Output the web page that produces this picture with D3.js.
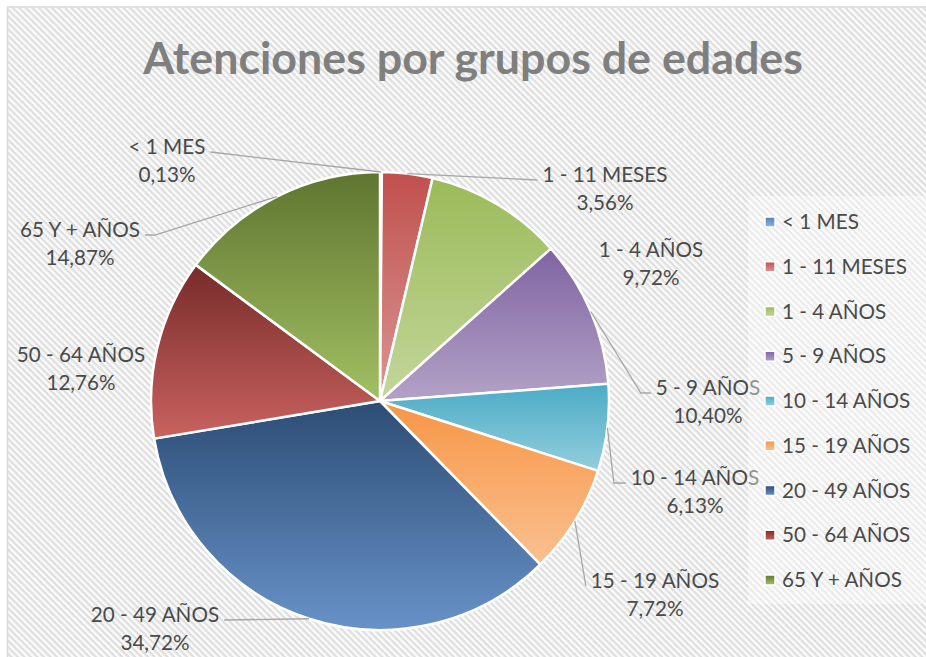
<!DOCTYPE html>
<html>
<head>
<meta charset="utf-8">
<script src="https://cdn.jsdelivr.net/npm/d3@7"></script>
<style>
  body { margin: 0; background: #fff; }
  text { font-family: Lato, "Open Sans", sans-serif; }
</style>
</head>
<body>
<div id="chart"></div>
<script>
// DATA
const categories = ["< 1 MES", "1 - 11 MESES", "1 - 4 AÑOS", "5 - 9 AÑOS", "10 - 14 AÑOS",
                    "15 - 19 AÑOS", "20 - 49 AÑOS", "50 - 64 AÑOS", "65 Y + AÑOS"];
const values = [0.13, 3.56, 9.72, 10.40, 6.13, 7.72, 34.72, 12.76, 14.87];
const titleText = "Atenciones por grupos de edades";

// gradient colours (top -> bottom of each slice)
const colorTop    = ["#4f81bd", "#c0504d", "#9bbb59", "#8064a2", "#4bacc6", "#f79646", "#2c4d75", "#772c2a", "#5f7530"];
const colorBottom = ["#95b3d7", "#da9694", "#c3d69b", "#b3a2c7", "#93cddd", "#fac090", "#6892c8", "#c9625f", "#a2c063"];

// label placement (centre x, first-line baseline) and leader elbow length
const labelLayout = [
  {x: 167, y: 154, elbow: 0},
  {x: 605, y: 182, elbow: 0},
  {x: 651, y: 257, elbow: null},
  {x: 708, y: 395, elbow: 10},
  {x: 695, y: 485, elbow: 12},
  {x: 655, y: 588, elbow: 0},
  {x: 155, y: 622, elbow: 0},
  {x: 81,  y: 362, elbow: null},
  {x: 80,  y: 237, elbow: 10}
];

const width = 926, height = 657;
const cx = 380, cy = 401, radius = 229;
const fmt = d3.formatLocale({decimal: ",", thousands: ".", grouping: [3], currency: ["", ""]}).format(".2f");
const textColor = "#4a4a4a";

const svg = d3.select("#chart").append("svg")
  .attr("width", width)
  .attr("height", height);

const defs = svg.append("defs");

// striped background
const pat = defs.append("pattern")
  .attr("id", "stripes")
  .attr("patternUnits", "userSpaceOnUse")
  .attr("width", 4.6).attr("height", 4.6)
  .attr("patternTransform", "rotate(45)");
pat.append("rect").attr("width", 4.6).attr("height", 4.6).attr("fill", "#fbfbfb");
pat.append("rect").attr("width", 4.6).attr("height", 2.2).attr("fill", "#dedede");

svg.append("rect").attr("width", width).attr("height", height).attr("fill", "#fff");
svg.append("rect")
  .attr("x", 7.5).attr("y", 7).attr("width", width + 10).attr("height", height + 10)
  .attr("fill", "url(#stripes)")
  .attr("stroke", "#d9d9d9").attr("stroke-width", 1.5);

// gradients
categories.forEach((c, i) => {
  const g = defs.append("linearGradient")
    .attr("id", "grad" + i)
    .attr("x1", 0).attr("y1", 0).attr("x2", 0).attr("y2", 1);
  g.append("stop").attr("offset", "0%").attr("stop-color", colorTop[i]);
  g.append("stop").attr("offset", "100%").attr("stop-color", colorBottom[i]);
});

// title, sized to the reference width
const title = svg.append("text")
  .attr("x", 473).attr("y", 74)
  .attr("text-anchor", "middle")
  .attr("font-weight", "bold")
  .attr("fill", "#7f7f7f")
  .attr("font-size", 44)
  .text(titleText);
const tw = title.node().getComputedTextLength();
title.attr("font-size", 44 * 660 / tw);

// label font size fitted so "1 - 11 MESES" is ~125px wide
const probe = svg.append("text").attr("font-size", 20).text(categories[1]);
const fontSize = 20 * 125 / probe.node().getComputedTextLength();
probe.remove();

const gPie = svg.append("g").attr("transform", `translate(${cx},${cy})`);
const gLabels = svg.append("g");
const gLegend = svg.append("g");

// PIE
const pie = d3.pie().sort(null).value(d => d)(values);
const arc = d3.arc().innerRadius(0).outerRadius(radius);

gPie.selectAll("path")
  .data(pie)
  .enter()
  .append("path")
  .attr("d", arc)
  .attr("fill", (d, i) => `url(#grad${i})`)
  .attr("stroke", "#fff")
  .attr("stroke-width", 2.5)
  .attr("stroke-linejoin", "round");

// LABELS + LEADERS
pie.forEach((d, i) => {
  const L = labelLayout[i];
  const t = gLabels.append("text")
    .attr("text-anchor", "middle")
    .attr("fill", textColor)
    .attr("font-size", fontSize);
  t.append("tspan").attr("x", L.x).attr("y", L.y).text(categories[i]);
  t.append("tspan").attr("x", L.x).attr("y", L.y + 28).text(fmt(values[i]) + "%");

  if (L.elbow === null) return;
  const first = t.select("tspan").node().getComputedTextLength();
  const mid = (d.startAngle + d.endAngle) / 2;
  const p0 = [cx + radius * Math.sin(mid), cy - radius * Math.cos(mid)];
  const right = L.x > cx;
  const ex = right ? L.x - first / 2 - 5 : L.x + first / 2 + 5;
  const ey = L.y - 2;
  const pts = [p0];
  if (L.elbow) pts.push([right ? ex - L.elbow : ex + L.elbow, ey]);
  pts.push([ex, ey]);
  gLabels.append("path")
    .attr("d", d3.line()(pts))
    .attr("fill", "none")
    .attr("stroke", "#a6a6a6")
    .attr("stroke-width", 1.3);
});

// LEGEND (semi-transparent box overlays label ends)
gLegend.append("rect")
  .attr("x", 748).attr("y", 196).attr("width", 190).attr("height", 408)
  .attr("fill", "#fff").attr("fill-opacity", 0.4);

const ly = d3.scalePoint().domain(categories).range([222, 580]);
const items = gLegend.selectAll(".item")
  .data(categories)
  .enter()
  .append("g")
  .attr("class", "item")
  .attr("transform", d => `translate(765,${ly(d)})`);

items.append("rect")
  .attr("x", 0).attr("y", -5).attr("width", 10).attr("height", 10)
  .attr("fill", (d, i) => `url(#grad${i})`)
  .attr("stroke", "#fff").attr("stroke-width", 1.5);

items.append("text")
  .attr("x", 17).attr("y", 7)
  .attr("fill", textColor)
  .attr("font-size", fontSize)
  .text(d => d);
</script>
</body>
</html>
